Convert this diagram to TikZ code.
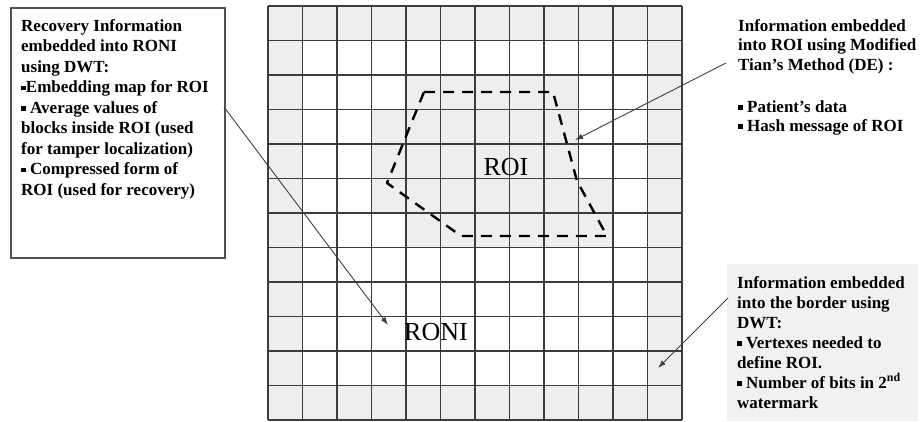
\documentclass[tikz,border=0pt]{standalone}
\usepackage{fontspec}
\setmainfont{Liberation Serif}
\usetikzlibrary{arrows.meta}
\definecolor{cellgray}{HTML}{EEEEEE}
\definecolor{gridcol}{HTML}{3C3C3C}
\definecolor{boxgray}{HTML}{F1F1F1}
\newcommand{\sqb}{\rule[0.14em]{0.28em}{0.28em}}
\begin{document}
\begin{tikzpicture}[x=1pt,y=-1pt,
  info/.style={anchor=north west, inner sep=0pt, align=left, font=\bfseries\fontsize{17}{20}\selectfont},
  bigl/.style={inner sep=0pt, font=\fontsize{26}{30}\selectfont},
  conn/.style={draw=black!75, line width=0.9pt, -{Latex[length=8pt,width=5.5pt]}},
  gridline/.style={draw=gridcol, line width=1.4pt},
  roiedge/.style={draw=black, line width=2.4pt, dash pattern=on 11pt off 8pt, line join=round},
]
\useasboundingbox (0,0) rectangle (921,421);
\fill[white] (0,0) rectangle (921,421);
% border cells
\foreach \i in {0,...,11}{
  \fill[cellgray] ({268+34.5*\i},6) rectangle ++(34.5,34.5);
  \fill[cellgray] ({268+34.5*\i},{6+34.5*11}) rectangle ++(34.5,34.5);
  \fill[cellgray] (268,{6+34.5*\i}) rectangle ++(34.5,34.5);
  \fill[cellgray] ({268+34.5*11},{6+34.5*\i}) rectangle ++(34.5,34.5);
}
% ROI cells
\foreach \r/\a/\b in {2/4/8,3/3/8,4/3/8,5/3/9,6/4/9}{
  \foreach \c in {\a,...,\b}{
    \fill[cellgray] ({268+34.5*\c},{6+34.5*\r}) rectangle ++(34.5,34.5);
  }
}
% grid lines
\foreach \k in {0,...,12}{
  \draw[gridline] ({268+34.5*\k},6) -- ({268+34.5*\k},420);
  \draw[gridline] (268,{6+34.5*\k}) -- (682,{6+34.5*\k});
}
% ROI polygon
\draw[roiedge] (424,92) -- (553,92) -- (577,181) -- (607,236) -- (461,236) -- (387,183) -- cycle;
\node[bigl] (roi) at (506,167) {ROI};
\node[bigl] (roni) at (436,332) {RONI};

% left box
\node[draw=gridcol!90, line width=1.5pt, fill=white, anchor=north west, inner sep=0pt,
      minimum width=214pt, minimum height=250pt] (lbox) at (10,7) {};
\node[info, font=\bfseries\fontsize{17}{20.5}\selectfont] (ltext) at (21,19) {Recovery Information\\
embedded into RONI\\
using DWT:\\
\sqb Embedding map for ROI\\
\sqb\ Average values of\\
blocks inside ROI (used\\
for tamper localization)\\
\sqb\ Compressed form of\\
ROI (used for recovery)};

% right top text
\node[info, font=\bfseries\fontsize{17}{19.5}\selectfont] (rtext) at (738,19) {Information embedded\\
into ROI using Modified\\
Tian's Method (DE) :};
\node[info, font=\bfseries\fontsize{17}{19}\selectfont] (rlist) at (738,100) {\sqb\ Patient's data\\
\sqb\ Hash message of ROI};

% bottom right box
\node[fill=boxgray, anchor=north west, inner sep=0pt, minimum width=191pt, minimum height=157pt] (brbox) at (727,264) {};
\node[info] (brtext) at (737,276) {Information embedded\\
into the border using\\
DWT:\\
\sqb\ Vertexes needed to\\
define ROI.\\
\sqb\ Number of bits in 2\textsuperscript{nd}\\
watermark};

% connectors
\coordinate (a1s) at (224,107);
\coordinate (a1e) at (388,325);
\coordinate (a2s) at (726,63);
\coordinate (a2e) at (575,140);
\coordinate (a3s) at (728,298);
\coordinate (a3e) at (658,368);
\draw[conn] (a1s) -- (a1e);
\draw[conn] (a2s) -- (a2e);
\draw[conn] (a3s) -- (a3e);
\end{tikzpicture}
\end{document}
